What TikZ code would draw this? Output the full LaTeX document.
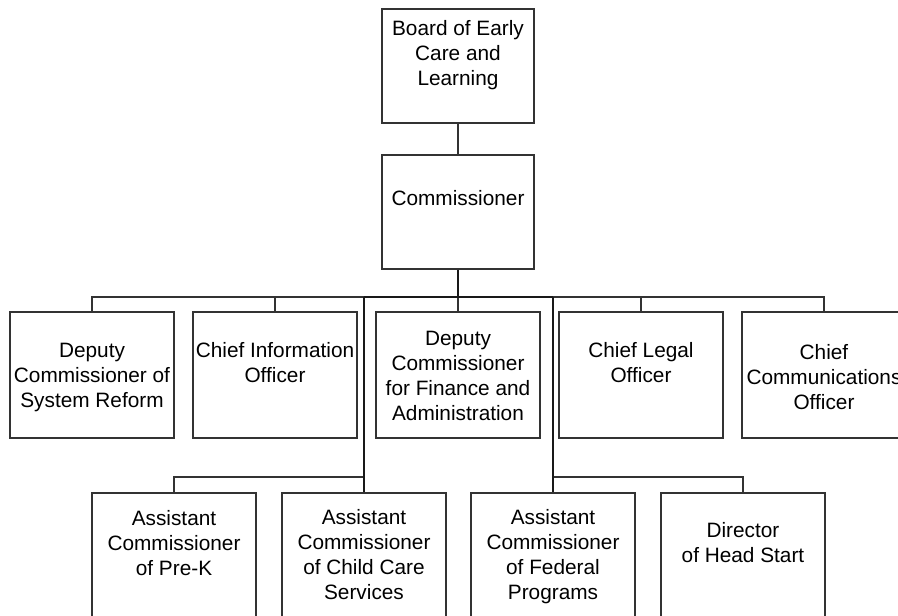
\documentclass[tikz,border=0pt]{standalone}
\usepackage{fontspec}
\setmainfont{Liberation Sans}
\usetikzlibrary{calc}

\begin{document}
\begin{tikzpicture}[x=1pt,y=-1pt,
  box/.style={draw=black!80,line width=1.1pt,minimum width=164pt,minimum height=126pt,inner sep=0pt},
  topbox/.style={box,minimum width=152pt,minimum height=114pt},
  txt/.style={align=center,inner sep=0pt,font=\fontsize{20.8}{25}\selectfont},
  link/.style={draw=black!80,line width=1.1pt},
  trunk/.style={draw=black!90,line width=2pt}]
     \useasboundingbox (0,0) rectangle (898,616);
     \clip (0,0) rectangle (898,616);

     %board and commissioner
     \node[topbox] (board) at (458,66) {};
     \node[txt] (board-t) at (458,55) {Board of Early\\Care and\\Learning};
     \node[topbox] (com) at (458,212) {};
     \node[txt] (com-t) at (458,198) {Commissioner};
     \draw[link] (board.south) -- (com.north);

     \coordinate (bus) at (458,297);
     \coordinate (jl) at (364,297);
     \coordinate (jr) at (553,297);
     \coordinate (bl) at (364,477);
     \coordinate (br) at (553,477);

     %second row
     \foreach \n/\x/\ty/\t in {dsr/92/377/{Deputy\\Commissioner of\\System Reform},
        cio/275/363/{Chief Information\\Officer},
        dfa/458/376/{Deputy\\Commissioner\\for Finance and\\Administration},
        clo/641/363/{Chief Legal\\Officer},
        cco/824/377/{Chief\\Communications\\Officer}}  {
     	\node[box] (\n) at (\x,375) {};
     	\node[txt] (\n-t) at (\x,\ty) {\t};
     	\draw[link] (\n.north) |- (bus);
     }

     %third row
     \foreach \n/\x/\ty/\t in {apk/174/543/{Assistant\\Commissioner\\of Pre-K},
        acc/364/555/{Assistant\\Commissioner\\of Child Care\\Services},
        afp/553/557/{Assistant\\Commissioner\\of Federal\\Programs},
        dhs/743/543/{Director\\of Head Start}}  {
     	\node[box] (\n) at (\x,556) {};
     	\node[txt] (\n-t) at (\x,\ty) {\t};
     }
     \draw[link] (apk.north) |- (bl);
     \draw[link] (dhs.north) |- (br);

     \draw[trunk] (com.south) -- (bus);
     \draw[trunk] (jl) -- (jr);
     \draw[trunk] (jl) -- (acc.north);
     \draw[trunk] (jr) -- (afp.north);

\end{tikzpicture}
\end{document}
